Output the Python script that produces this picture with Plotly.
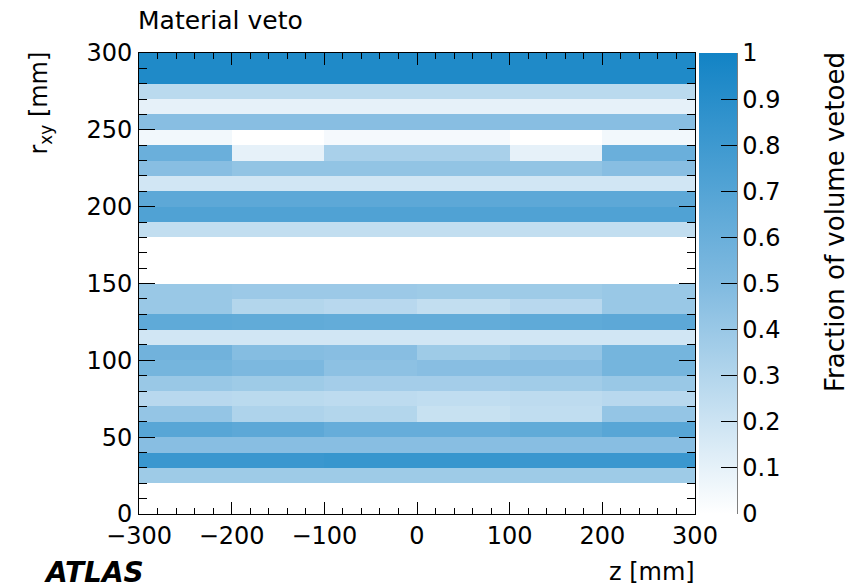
import plotly.graph_objects as go

# bin centres
z_centres = [-250, -150, -50, 50, 150, 250]
r_centres = [5 + 10 * i for i in range(30)]

# fraction of volume vetoed, one row per r bin (from r=0 upwards), columns in z order
veto_rows = [
    [0.00, 0.00, 0.00, 0.00, 0.00, 0.00],  # 0-10
    [0.00, 0.00, 0.00, 0.00, 0.00, 0.00],  # 10-20
    [0.38, 0.38, 0.38, 0.38, 0.38, 0.38],  # 20-30
    [0.82, 0.82, 0.83, 0.83, 0.82, 0.82],  # 30-40
    [0.47, 0.47, 0.47, 0.47, 0.47, 0.47],  # 40-50
    [0.68, 0.66, 0.62, 0.62, 0.64, 0.68],  # 50-60
    [0.42, 0.32, 0.30, 0.22, 0.25, 0.42],  # 60-70
    [0.28, 0.27, 0.26, 0.25, 0.26, 0.28],  # 70-80
    [0.40, 0.38, 0.36, 0.36, 0.37, 0.40],  # 80-90
    [0.55, 0.52, 0.45, 0.47, 0.47, 0.55],  # 90-100
    [0.57, 0.48, 0.47, 0.38, 0.42, 0.55],  # 100-110
    [0.18, 0.18, 0.18, 0.18, 0.18, 0.18],  # 110-120
    [0.65, 0.64, 0.63, 0.63, 0.65, 0.66],  # 120-130
    [0.40, 0.30, 0.28, 0.24, 0.28, 0.40],  # 130-140
    [0.40, 0.39, 0.39, 0.38, 0.38, 0.40],  # 140-150
    [0.00, 0.00, 0.00, 0.00, 0.00, 0.00],  # 150-160
    [0.00, 0.00, 0.00, 0.00, 0.00, 0.00],  # 160-170
    [0.00, 0.00, 0.00, 0.00, 0.00, 0.00],  # 170-180
    [0.24, 0.24, 0.24, 0.24, 0.24, 0.24],  # 180-190
    [0.72, 0.72, 0.72, 0.72, 0.72, 0.72],  # 190-200
    [0.66, 0.66, 0.66, 0.66, 0.66, 0.66],  # 200-210
    [0.18, 0.18, 0.18, 0.18, 0.18, 0.18],  # 210-220
    [0.47, 0.43, 0.43, 0.43, 0.43, 0.47],  # 220-230
    [0.60, 0.10, 0.34, 0.34, 0.10, 0.60],  # 230-240
    [0.05, 0.00, 0.04, 0.04, 0.00, 0.05],  # 240-250
    [0.47, 0.47, 0.47, 0.47, 0.47, 0.47],  # 250-260
    [0.10, 0.10, 0.10, 0.10, 0.10, 0.10],  # 260-270
    [0.27, 0.27, 0.27, 0.27, 0.27, 0.27],  # 270-280
    [0.94, 0.94, 0.94, 0.94, 0.94, 0.94],  # 280-290
    [0.94, 0.94, 0.94, 0.94, 0.94, 0.94],  # 290-300
]

x_ticks = [-300, -200, -100, 0, 100, 200, 300]
y_ticks = [0, 50, 100, 150, 200, 250, 300]
cb_ticks = [0, 0.1, 0.2, 0.3, 0.4, 0.5, 0.6, 0.7, 0.8, 0.9, 1]
cb_ticktext = ["0", "0.1", "0.2", "0.3", "0.4", "0.5", "0.6", "0.7", "0.8", "0.9", "1"]

FONT = "DejaVu Sans, sans-serif"
W, H = 857, 588
L, R, T, B = 139, 162, 53, 74
pw, ph = W - L - R, H - T - B

def px_x(px):
    return (px - L) / pw

def px_y(py):
    return (H - B - py) / ph

fig = go.Figure(go.Heatmap(
    x=z_centres, y=r_centres, z=veto_rows,
    zmin=0, zmax=1, zsmooth=False,
    colorscale=[[0, "#ffffff"], [0.5, "#80bae0"], [1, "#1283c5"]],
    colorbar=dict(
        x=px_x(699), xanchor="left", xref="paper", xpad=0,
        y=0.5, yanchor="middle", len=1, lenmode="fraction", ypad=0,
        thickness=38, outlinewidth=0,
        ticks="inside", ticklen=16, tickwidth=1, tickcolor="#000",
        tickvals=cb_ticks, ticktext=cb_ticktext,
        tickfont=dict(family=FONT, size=24, color="#000"),
    ),
    hoverinfo="skip",
))

fig.update_layout(
    width=W, height=H,
    margin=dict(l=L, r=R, t=T, b=B, pad=0),
    paper_bgcolor="white", plot_bgcolor="white",
    font=dict(family=FONT, color="#000"),
    showlegend=False,
    xaxis=dict(
        range=[-300, 300], tickvals=x_ticks, ticks="inside", ticklen=12,
        tickwidth=1, tickcolor="#000", showline=True, linecolor="#000",
        linewidth=1, mirror="allticks", showgrid=False, zeroline=False,
        tickfont=dict(family=FONT, size=24), ticklabelstandoff=0,
        minor=dict(dtick=20, tick0=0, ticks="inside", ticklen=6,
                   tickcolor="#000", tickwidth=1, showgrid=False),
    ),
    yaxis=dict(
        range=[0, 300], tickvals=y_ticks, ticks="inside", ticklen=16,
        tickwidth=1, tickcolor="#000", showline=True, linecolor="#000",
        linewidth=1, mirror="allticks", showgrid=False, zeroline=False,
        tickfont=dict(family=FONT, size=24), ticklabelstandoff=1,
        minor=dict(dtick=10, tick0=0, ticks="inside", ticklen=8,
                   tickcolor="#000", tickwidth=1, showgrid=False),
    ),
    shapes=[
        dict(type="line", xref="paper", yref="paper",
             x0=px_x(737), x1=px_x(737), y0=0, y1=1,
             line=dict(color="#000", width=1)),
    ],
    annotations=[
        dict(text="Material veto", xref="paper", yref="paper",
             x=px_x(136), y=px_y(21), xanchor="left", yanchor="middle",
             showarrow=False, font=dict(family=FONT, size=25)),
        dict(text="r<sub>xy</sub> [mm]", xref="paper", yref="paper",
             x=px_x(40), y=px_y(50), xanchor="center", yanchor="top", textangle=-90,
             showarrow=False, font=dict(family=FONT, size=24)),
        dict(text="z [mm]", xref="paper", yref="paper",
             x=px_x(697), y=px_y(572), xanchor="right", yanchor="middle",
             showarrow=False, font=dict(family=FONT, size=24)),
        dict(text="<b><i>ATLAS</i></b>", xref="paper", yref="paper",
             x=px_x(42), y=px_y(572), xanchor="left", yanchor="middle",
             showarrow=False, font=dict(family=FONT, size=28)),
        dict(text="Fraction of volume vetoed", xref="paper", yref="paper",
             x=px_x(835), y=px_y(50), xanchor="center", yanchor="top", textangle=-90,
             showarrow=False, font=dict(family=FONT, size=26)),
    ],
)

fig.write_html("out.html")
